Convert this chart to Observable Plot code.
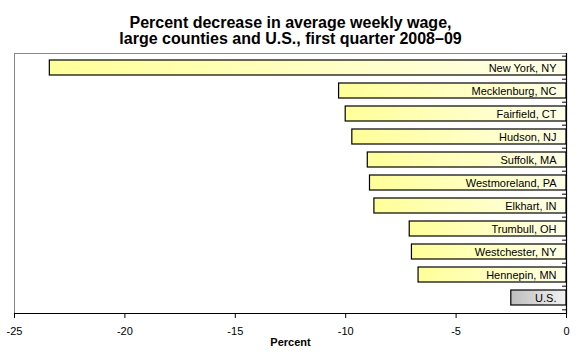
<!DOCTYPE html>
<html><head><meta charset="utf-8">
<script src="https://cdn.jsdelivr.net/npm/d3@7"></script>
<script src="https://cdn.jsdelivr.net/npm/@observablehq/plot@0.6"></script>
<style>body{margin:0;background:#fff}</style>
</head><body><div id="chart"></div>
<script>
const counties = ["New York, NY","Mecklenburg, NC","Fairfield, CT","Hudson, NJ","Suffolk, MA","Westmoreland, PA","Elkhart, IN","Trumbull, OH","Westchester, NY","Hennepin, MN","U.S."];
const values = [-23.4,-10.3,-10.0,-9.7,-9.0,-8.9,-8.7,-7.1,-7.0,-6.7,-2.5];
const xTicks = [-25,-20,-15,-10,-5,0];
const titleLines = ["Percent decrease in average weekly wage,","large counties and U.S., first quarter 2008–09"];
const xLabel = "Percent";

const data = counties.map((c,i)=>({county:c, value:values[i], us: c==="U.S."}));
const W=580,H=360,mT=53,mB=47,mL=14,mR=14;
const step=(H-mT-mB)/counties.length;

const plot = Plot.plot({
  width:W, height:H, marginTop:mT, marginBottom:mB, marginLeft:mL, marginRight:mR,
  style:{fontFamily:"'Liberation Sans', Arial, sans-serif", fontSize:"11px", background:"#fff", color:"#000"},
  x:{domain:[-25,0]},
  y:{domain:counties, paddingInner:0.33, paddingOuter:0.165, axis:null},
  marks:[
    Plot.frame({anchor:"top", stroke:"#888"}),
    Plot.frame({anchor:"left", stroke:"#888"}),
    Plot.barX(data.filter(d=>!d.us),{x1:0,x2:"value",y:"county",fill:"url(#gy)",stroke:"#000",strokeWidth:1.2}),
    Plot.barX(data.filter(d=>d.us),{x1:0,x2:"value",y:"county",fill:"url(#gg)",stroke:"#000",strokeWidth:1.2}),
    Plot.text(data,{x:0,y:"county",text:"county",textAnchor:"end",dx:-10,fill:"#000",fontSize:11}),
    Plot.ruleY(counties,{y:d=>d,x1:0,x2:0,insetLeft:-4,dy:-step/2,stroke:"#000"}),
    Plot.ruleY(counties.slice(-1),{y:d=>d,x1:0,x2:0,insetLeft:-4,dy:step/2,stroke:"#000"}),
    Plot.ruleX([0],{stroke:"#000",strokeWidth:1.2}),
    Plot.frame({anchor:"bottom", stroke:"#000", strokeWidth:1.2}),
    Plot.axisX({ticks:xTicks, tickSize:5, tickPadding:9, tickFormat:d=>String(d), label:null, fontSize:11, stroke:"#000"}),
    Plot.text([xLabel],{frameAnchor:"bottom", dy:32, fontWeight:"bold", fontSize:11}),
    Plot.text([titleLines[0]],{frameAnchor:"top", dy:-37, fontWeight:"bold", fontSize:16}),
    Plot.text([titleLines[1]],{frameAnchor:"top", dy:-20.5, fontWeight:"bold", fontSize:16})
  ]
});
const defs = d3.select(plot).insert("defs",":first-child");
const gy = defs.append("linearGradient").attr("id","gy").attr("x1","0").attr("x2","1").attr("y1","0").attr("y2","0");
gy.append("stop").attr("offset","0").attr("stop-color","#ffff99");
gy.append("stop").attr("offset","1").attr("stop-color","#ffffe8");
const gg = defs.append("linearGradient").attr("id","gg").attr("x1","0").attr("x2","1").attr("y1","0").attr("y2","0");
gg.append("stop").attr("offset","0").attr("stop-color","#bdbdbd");
gg.append("stop").attr("offset","1").attr("stop-color","#f2f2f2");
document.getElementById("chart").appendChild(plot);
</script></body></html>
